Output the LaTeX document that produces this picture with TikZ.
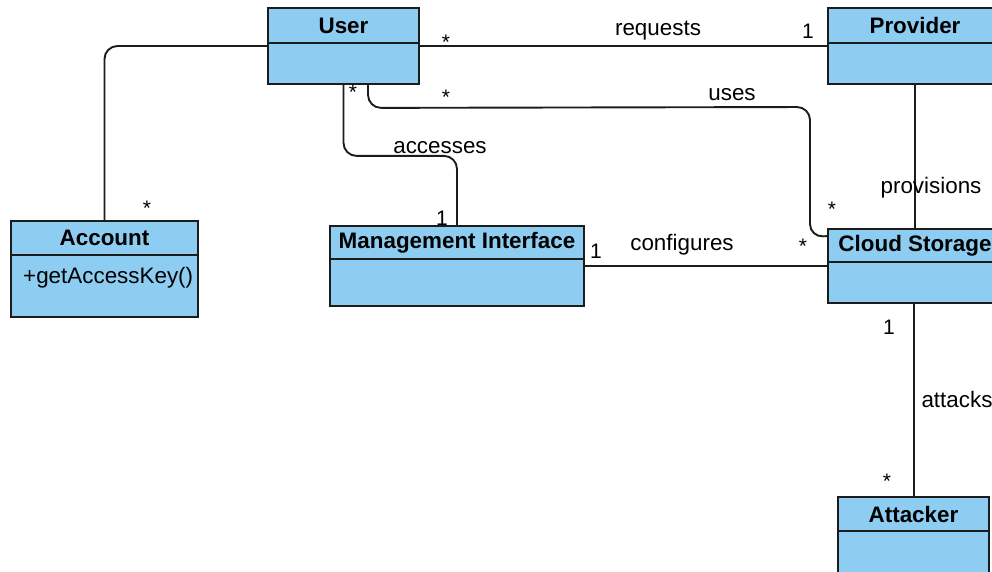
\documentclass[tikz,border=0pt]{standalone}
\usepackage{fontspec}
\setmainfont{Liberation Sans}
\usetikzlibrary{calc}
\definecolor{classfill}{RGB}{141,205,241}
\definecolor{ink}{RGB}{28,28,28}
\tikzset{
  classbox/.style={draw=ink, line width=1.8pt, fill=classfill, rectangle, inner sep=0pt},
  divider/.style={draw=ink, line width=1.8pt},
  classtitle/.style={font=\fontsize{22.4}{26}\selectfont\bfseries, text=black, inner sep=0pt},
  member/.style={font=\fontsize{22.4}{26}\selectfont, text=black, inner sep=0pt, anchor=west},
  conn/.style={draw=ink, line width=1.9pt, rounded corners=13pt},
  lbl/.style={font=\fontsize{22.4}{26}\selectfont, text=black, inner sep=0pt},
  mult/.style={font=\fontsize{21}{24}\selectfont, text=black, inner sep=0pt}
}
% one UML class: name, left, top, right, bottom, divider y, title
\newcommand{\umlclass}[7]{%
  \node[classbox, minimum width={(#4-#2)*1pt}, minimum height={(#5-#3)*1pt}]
    (#1) at ({(#2+#4)/2},{(#3+#5)/2}) {};
  \draw[divider] (#2,#6) -- (#4,#6);
  \node[classtitle] (#1-title) at ({(#2+#4)/2},{(#3+#6)/2}) {#7};
}
\begin{document}
\begin{tikzpicture}[x=1pt,y=-1pt]
\useasboundingbox (0,0) rectangle (992,571);
\clip (0,0) rectangle (992,571);
\fill[white] (0,0) rectangle (992,571);

% classes
\umlclass{user}{268}{8}{419}{84}{43}{User}
\umlclass{prov}{828}{8}{1002}{84}{43}{Provider}
\umlclass{acc}{11}{221}{198}{317}{255}{Account}
\node[member] (acc-op) at (23,278) {+getAccessKey()};
\umlclass{mi}{330}{226}{584}{306}{259}{Management Interface}
\umlclass{cloud}{828}{229}{1002}{303}{262}{Cloud Storage}
\umlclass{att}{838}{497}{989}{600}{531}{Attacker}

% associations
\draw[conn] (user.west) -| (acc.north);
\draw[conn] (user.east) -- (prov.west);
\draw[conn] ([xshift=24.5pt]user.south) -- ++(0,23) -- (810,107) -- (810,237)
  -- ($(cloud.north west)+(0,8)$);
\draw[conn] (user.south) -- ++(0,71) -| (mi.north);
\draw[conn] (mi.east) -- (mi.east -| cloud.west);
\draw[conn] (prov.south) -- (cloud.north);
\draw[conn] ($(cloud.south)+(-1,0)$) -- ($(cloud.south |- att.north)+(-1,0)$);

% association names
\node[lbl] (l-req) at (658,31) {requests};
\node[lbl] (l-uses) at (732,95) {uses};
\node[lbl] (l-acc) at (440,148) {accesses};
\node[lbl] (l-conf) at (682,245) {configures};
\node[lbl] (l-prov) at (931,188) {provisions};
\node[lbl] (l-att) at (957,399) {attacks};

% multiplicities
\node[mult] (m1) at (147,208) {*};
\node[mult] (m2) at (446,42) {*};
\node[mult] (m3) at (808,31) {1};
\node[mult] (m4) at (446,97) {*};
\node[mult] (m5) at (353,92) {*};
\node[mult] (m6) at (832,209) {*};
\node[mult] (m7) at (442,218) {1};
\node[mult] (m8) at (596,251) {1};
\node[mult] (m9) at (803,246) {*};
\node[mult] (m10) at (889,327) {1};
\node[mult] (m11) at (887,481) {*};
\end{tikzpicture}
\end{document}
